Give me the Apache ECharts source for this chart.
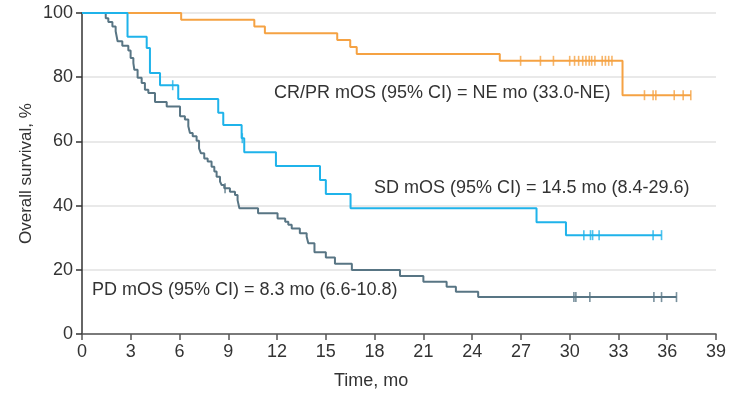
<!DOCTYPE html>
<html>
<head>
<meta charset="utf-8">
<style>
  html, body { margin: 0; padding: 0; background: #fff; }
  #chart { width: 741px; height: 400px; }
</style>
<script src="https://cdn.jsdelivr.net/npm/echarts@6.0.0/dist/echarts.min.js"></script>
</head>
<body>
<div id="chart"></div>
<script>
// Kaplan-Meier curves (time in months, survival in %)
const crprTimes = [0, 6.1, 10.6, 11.25, 15.7, 16.5, 16.9, 25.7, 33.25, 37.45]
const crprSurv = [100, 97.9, 95.8, 93.7, 91.6, 89.4, 87.2, 85.1, 74.4, 74.4]
const crprCensored = [26.98, 28.2, 29.0, 30.0, 30.3, 30.55, 30.8, 31.0, 31.2, 31.35, 31.55, 32.0, 32.2, 32.4, 32.6, 34.6, 35.13, 35.3, 36.43, 36.98, 37.45]

const sdTimes = [0, 2.8, 3.98, 4.18, 4.8, 5.92, 8.38, 8.69, 9.82, 9.98, 11.93, 14.64, 15.0, 16.52, 27.96, 29.77, 35.65]
const sdSurv = [100, 92.6, 89.1, 81.3, 77.5, 73.2, 68.9, 65.1, 61.0, 56.6, 52.3, 48.0, 43.6, 39.2, 34.8, 30.8, 30.8]
const sdCensored = [5.58, 9.86, 30.87, 31.28, 31.41, 31.81, 35.13, 35.65]

const pdTimes = [0, 1.46, 1.62, 1.87, 2.07, 2.19, 2.48, 2.85, 2.99, 3.16, 3.22, 3.42, 3.67, 3.87, 4.08, 4.49, 5.21, 6.03, 6.33, 6.54, 6.64, 6.81, 7.05, 7.2, 7.32, 7.52, 7.73, 7.97, 8.14, 8.28, 8.49, 8.59, 8.75, 9.1, 9.41, 9.57, 9.68, 10.83, 12.03, 12.5, 12.69, 12.9, 13.4, 13.82, 13.92, 14.3, 15.0, 15.56, 16.6, 19.56, 21.0, 22.43, 23.0, 24.37, 36.57]
const pdSurv = [100, 98.4, 97.2, 95.8, 94.3, 91.2, 89.8, 88.3, 86.0, 84.4, 82.3, 79.8, 78.2, 76.1, 75.1, 72.3, 70.9, 67.8, 66.8, 64.7, 62.6, 61.6, 60.2, 57.8, 56.3, 54.7, 53.7, 52.1, 50.6, 49.0, 47.5, 46.4, 45.4, 44.3, 43.3, 41.7, 39.2, 37.6, 36.0, 35.0, 34.0, 32.9, 31.4, 30.3, 28.3, 25.5, 23.8, 21.9, 19.9, 18.1, 16.3, 14.7, 13.2, 11.5, 11.5]
const pdCensored = [8.8, 30.26, 30.38, 31.24, 35.18, 35.65, 36.57]

const xTicks = [0, 3, 6, 9, 12, 15, 18, 21, 24, 27, 30, 33, 36, 39]
const yTicks = [0, 20, 40, 60, 80, 100]

const crprLabel = 'CR/PR mOS (95% CI) = NE mo (33.0-NE)'
const sdLabel = 'SD mOS (95% CI) = 14.5 mo (8.4-29.6)'
const pdLabel = 'PD mOS (95% CI) = 8.3 mo (6.6-10.8)'

const ORANGE = '#f5a243'
const BLUE = '#1fb3ea'
const SLATE = '#587584'
const FONT = 'Liberation Sans'

const curve = (times, surv) => times.map((t, i) => [t, surv[i]])

const levelAt = (times, surv, t) => {
  let v = surv[0]
  times.forEach((x, i) => { if (x <= t) v = surv[i] })
  return v
}

const censorMarks = (times, surv, cens) => cens.map((t) => [t, levelAt(times, surv, t)])

const stepSeries = (name, times, surv, color, z) => ({
  name,
  type: 'line',
  step: 'end',
  data: curve(times, surv),
  symbol: 'none',
  z,
  lineStyle: { color, width: 2 },
  animation: false
})

const tickSeries = (name, times, surv, cens, color, z) => ({
  name: name + ' censored',
  type: 'scatter',
  data: censorMarks(times, surv, cens),
  symbol: 'rect',
  symbolSize: [1.6, 10],
  z,
  itemStyle: { color },
  animation: false
})

const chart = echarts.init(document.getElementById('chart'), null, { renderer: 'canvas' })

const textStyle = { fontFamily: FONT, fontSize: 18, fill: '#333' }

chart.setOption({
  animation: false,
  grid: { left: 82, right: 25, top: 13, bottom: 66 },
  xAxis: {
    type: 'value',
    min: xTicks[0],
    max: xTicks[xTicks.length - 1],
    interval: 3,
    axisLine: { show: true, lineStyle: { color: '#555', width: 1.5 } },
    axisTick: { show: true, length: 6, lineStyle: { color: '#555', width: 1.5 } },
    axisLabel: { fontFamily: FONT, fontSize: 18, color: '#333', margin: 9 },
    splitLine: { show: false }
  },
  yAxis: {
    type: 'value',
    min: yTicks[0],
    max: yTicks[yTicks.length - 1],
    interval: 20,
    axisLine: { show: true, lineStyle: { color: '#333', width: 1.5 } },
    axisTick: { show: true, length: 6, lineStyle: { color: '#333', width: 1.5 } },
    axisLabel: { fontFamily: FONT, fontSize: 18, color: '#333', margin: 9 },
    splitLine: { show: true, lineStyle: { color: '#e2e2e2', width: 1.5 } }
  },
  graphic: [
    { type: 'text', left: 274, top: 84, style: Object.assign({ text: crprLabel }, textStyle) },
    { type: 'text', left: 374, top: 179, style: Object.assign({ text: sdLabel }, textStyle) },
    { type: 'text', left: 92, top: 281, style: Object.assign({ text: pdLabel }, textStyle) },
    { type: 'text', left: 334, top: 372, style: Object.assign({ text: 'Time, mo' }, textStyle) },
    {
      type: 'text',
      x: 18,
      y: 244,
      rotation: Math.PI / 2,
      style: Object.assign({ text: 'Overall survival, %' }, textStyle, { fontSize: 17 })
    }
  ],
  series: [
    stepSeries('CR/PR', crprTimes, crprSurv, ORANGE, 2),
    tickSeries('CR/PR', crprTimes, crprSurv, crprCensored, ORANGE, 2),
    stepSeries('PD', pdTimes, pdSurv, SLATE, 3),
    tickSeries('PD', pdTimes, pdSurv, pdCensored, SLATE, 3),
    stepSeries('SD', sdTimes, sdSurv, BLUE, 4),
    tickSeries('SD', sdTimes, sdSurv, sdCensored, BLUE, 4)
  ]
})
</script>
</body>
</html>
